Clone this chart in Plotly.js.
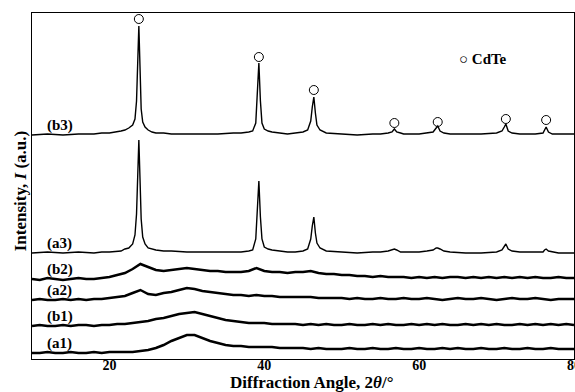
<!DOCTYPE html>
<html><head><meta charset="utf-8">
<script src="https://cdn.plot.ly/plotly-3.0.1.min.js"></script>
<style>html,body{margin:0;padding:0;overflow:hidden;background:#fff;}</style>
</head><body><div id="chart"></div>
<script>
// Crystalline patterns (2θ in degrees), shared angle grid
const angleFine = [10,12,14,16,18,19,20,21,21.5,22,22.5,23,23.3,23.5,23.65,23.8,23.95,24.1,24.3,24.6,25,25.5,26,27,28,30,32,34,36,37,38,38.5,38.9,39.1,39.3,39.5,39.7,40,40.5,41,42,43,44,45,45.6,46,46.2,46.4,46.6,46.8,47.2,48,50,52,54,55,56,56.5,56.8,57.1,57.6,58,60,61,61.8,62.2,62.4,62.7,63.2,64,66,68,70,70.7,71,71.2,71.5,72,73,74,75,76,76.2,76.4,76.7,77.2,78,80];
const b3 = [224,225,224,225,225,226,226,227,228,229,231,234,240,258,300,333,292,250,237,232,229,227,226,226,225,225,225,225,226,226,227,228,236,262,296,258,236,230,228,227,226,225,226,227,229,238,252,262,246,234,229,226,225,224,225,225,226,227,230,227,226,225,225,226,227,231,233,228,226,225,225,225,226,228,232,235,228,226,225,225,225,226,229,232,227,225,225,225];
const a3 = [106,107,106,107,106,107,107,108,108,110,111,115,124,145,190,219,180,140,122,115,111,110,109,108,108,107,107,107,107,107,108,109,120,148,178,142,120,112,110,109,108,107,107,108,110,120,133,142,126,116,111,108,107,106,107,107,108,109,110,109,107,107,107,108,109,111,111,110,108,107,106,106,107,109,113,115,110,108,107,107,107,107,109,110,108,107,106,106];

// Amorphous patterns, 1° steps
const angleCoarse = [10,11,12,13,14,15,16,17,18,19,20,21,22,23,24,25,26,27,28,29,30,31,32,33,34,35,36,37,38,39,40,41,42,43,44,45,46,47,48,49,50,51,52,53,54,55,56,57,58,59,60,61,62,63,64,65,66,67,68,69,70,71,72,73,74,75,76,77,78,79,80];
const b2 = [80,79,81,80,79,80,81,80,80,81,82,84,86,90,95,92,89,88,89,90,91,90,89,88,88,87,87,87,88,91,88,87,87,86,87,87,88,86,85,85,84,84,83,83,82,83,82,82,82,81,82,81,82,81,82,82,81,82,81,82,81,82,81,82,81,82,81,81,82,81,81];
const a2 = [59,60,59,59,60,59,60,59,60,60,61,62,63,66,69,65,64,66,67,69,71,70,68,67,66,65,64,64,63,64,63,63,62,62,62,62,62,61,61,61,61,60,61,60,60,61,60,60,61,60,60,61,60,59,60,61,60,60,61,60,59,60,61,60,60,61,60,59,60,60,60];
const b1 = [33,34,33,33,34,33,34,34,33,34,34,35,35,36,37,38,40,41,43,45,46,47,45,43,41,39,38,37,36,36,36,35,35,35,35,34,35,34,35,34,34,35,34,34,35,34,35,34,34,35,34,35,34,35,34,34,35,34,35,34,35,34,34,35,34,35,34,35,34,35,34];
const a1 = [6,6,7,6,6,7,6,6,7,6,7,7,7,7,8,9,11,14,18,21,24,24,21,18,16,14,13,13,12,12,12,12,11,11,11,11,10,11,10,10,10,11,10,10,11,10,10,11,10,10,11,10,10,11,10,11,10,10,11,10,10,11,10,10,11,10,10,11,10,10,10];

// CdTe reflection markers
const cdteAngle = [23.8,39.3,46.4,56.8,62.4,71.2,76.4];
const cdteMark = [340,302,269,236,237,240,239];

const labels = ["(b3)","(a3)","(b2)","(a2)","(b1)","(a1)"];
const series = [b3,a3,b2,a2,b1,a1];
const tickVals = [20,40,60,80];

const serif = "Liberation Serif";
const traces = [];
series.forEach((s,i)=>{
  const fine = i<2;
  traces.push({x: fine?angleFine:angleCoarse, y: s, mode:'lines', type:'scatter',
    line:{color:'#000', width: fine?1.4:2.5}, showlegend:false, hoverinfo:'skip'});
});
traces.push({x: cdteAngle, y: cdteMark, mode:'markers', type:'scatter',
  marker:{symbol:'circle-open', size:9, color:'#000', line:{width:1, color:'#000'}},
  showlegend:false});

const annotations = labels.map((t,i)=>({
  x: 13.6, y: series[i][0] + 10, xref:'x', yref:'y', text:'<b>'+t+'</b>',
  showarrow:false, font:{family:serif, size:15, color:'#000'}
}));
annotations.push({x: 64.9, y: 300, xref:'x', yref:'y', xanchor:'left', text:'○ <b>CdTe</b>',
  showarrow:false, font:{family:serif, size:15, color:'#000'}});
// axis titles
annotations.push({x: 0.515, y: -0.067, xref:'paper', yref:'paper', xanchor:'center', yanchor:'middle',
  text:'<b>Diffraction Angle, 2<i>θ</i>/°</b>', showarrow:false, font:{family:serif, size:17, color:'#000'}});
annotations.push({x: -0.022, y: 0.485, xref:'paper', yref:'paper', xanchor:'center', yanchor:'middle', textangle:-90,
  text:'<b>Intensity, <i>I</i> (a.u.)</b>', showarrow:false, font:{family:serif, size:17, color:'#000'}});

const layout = {
  width: 590, height: 392,
  margin:{l:32, r:16, t:13, b:33},
  paper_bgcolor:'#fff', plot_bgcolor:'#fff',
  font:{family:serif, color:'#000'},
  xaxis:{range:[10,80], tickvals:tickVals, ticktext:tickVals.map(v=>'<b>'+v+'</b>'),
    showgrid:false, zeroline:false, showline:true, mirror:true, linecolor:'#000', linewidth:1.3,
    ticks:'', ticklabelstandoff:-7, tickfont:{family:serif, size:14, color:'#000'}},
  yaxis:{range:[0,346], showticklabels:false, ticks:'', showgrid:false, zeroline:false,
    showline:true, mirror:true, linecolor:'#000', linewidth:1.3},
  annotations: annotations,
  showlegend:false
};
Plotly.newPlot('chart', traces, layout, {displayModeBar:false, staticPlot:true});
</script></body></html>
